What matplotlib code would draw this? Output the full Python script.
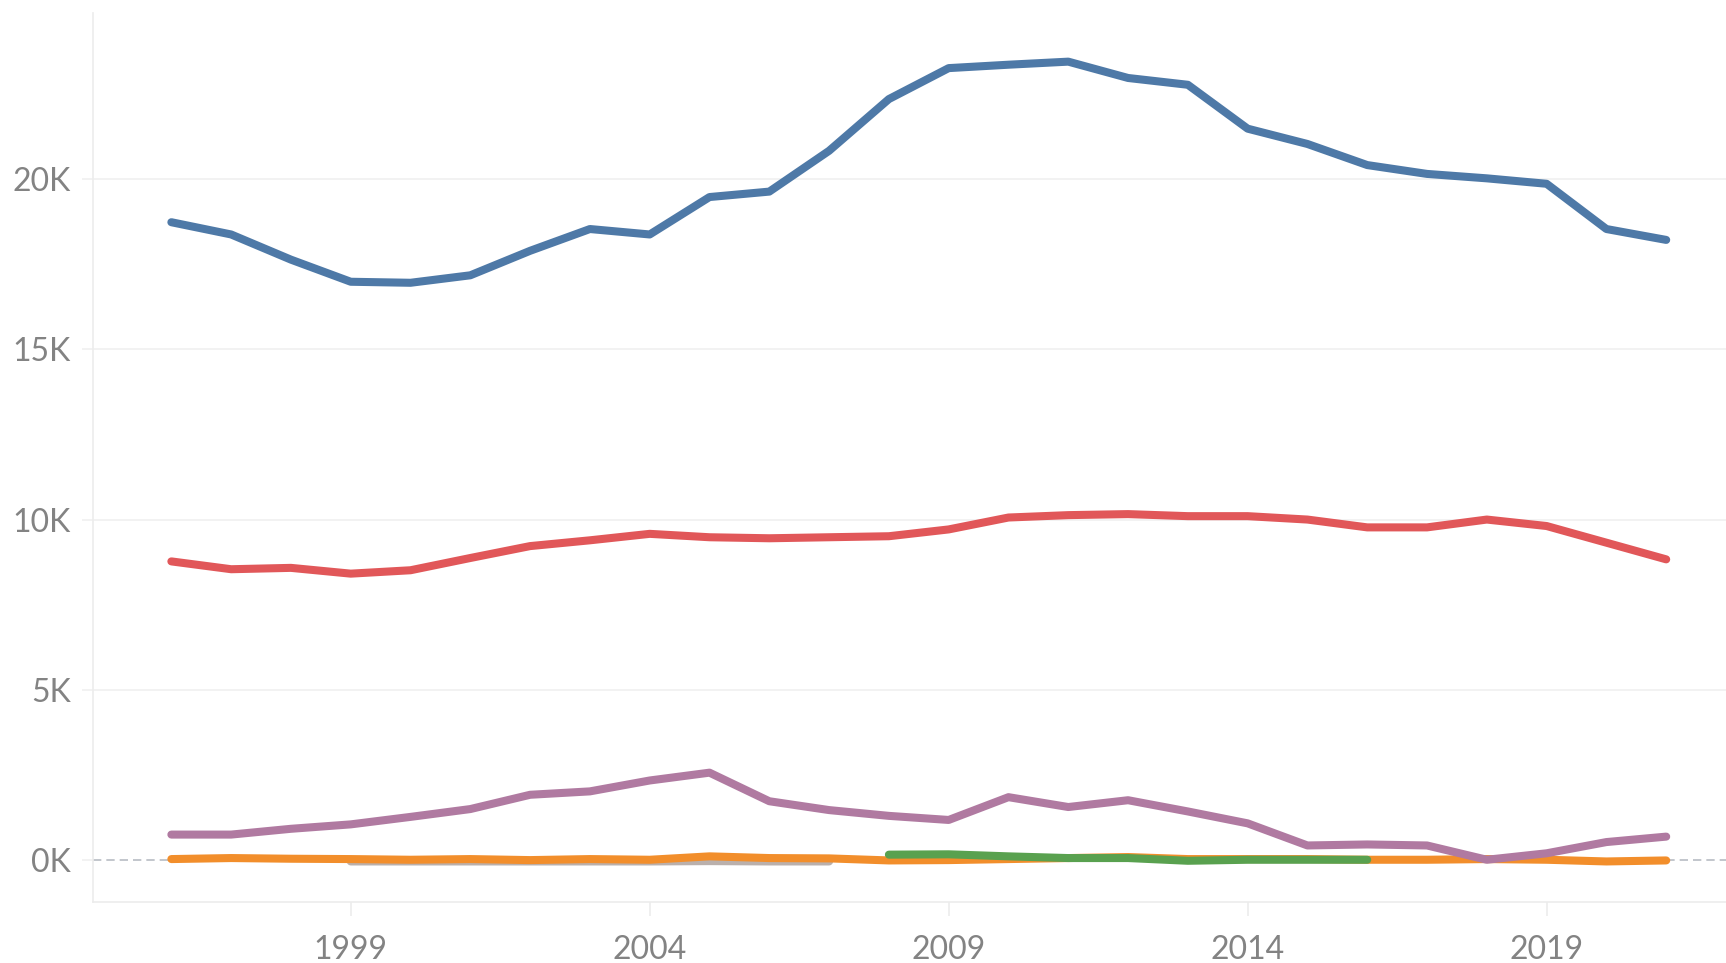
import matplotlib.pyplot as plt
from matplotlib.ticker import FuncFormatter

# data (values in thousands)
years = list(range(1996, 2022))
blue = [18.74, 18.38, 17.64, 16.99, 16.96, 17.18, 17.90, 18.54, 18.38, 19.48,
        19.64, 20.84, 22.36, 23.27, 23.37, 23.46, 22.98, 22.78, 21.49, 21.04,
        20.42, 20.16, 20.03, 19.87, 18.54, 18.22]
red = [8.77, 8.54, 8.58, 8.41, 8.51, 8.87, 9.22, 9.39, 9.58, 9.48,
       9.45, 9.48, 9.51, 9.71, 10.06, 10.13, 10.16, 10.10, 10.10, 10.00,
       9.77, 9.77, 10.00, 9.81, 9.32, 8.83]
purple = [0.74, 0.74, 0.91, 1.04, 1.26, 1.49, 1.91, 2.01, 2.33, 2.56,
          1.72, 1.46, 1.29, 1.17, 1.84, 1.55, 1.75, 1.42, 1.07, 0.42,
          0.45, 0.42, 0.0, 0.19, 0.52, 0.68]
orange = [0.02, 0.05, 0.03, 0.02, 0.0, 0.02, -0.01, 0.02, 0.0, 0.10,
          0.05, 0.04, -0.02, -0.01, 0.02, 0.05, 0.08, 0.02, 0.02, 0.02,
          0.0, 0.0, 0.02, 0.0, -0.05, -0.02]
green_years = list(range(2008, 2017))
green = [0.15, 0.16, 0.10, 0.05, 0.05, -0.03, 0.0, 0.0, 0.0]
gray_years = list(range(1999, 2008))
gray = [-0.05, -0.05, -0.05, -0.05, -0.05, -0.05, -0.04, -0.05, -0.05]

xticks = [1999, 2004, 2009, 2014, 2019]
yticks = [0, 5, 10, 15, 20]

plt.rcParams['font.family'] = ['Lato', 'DejaVu Sans']

fig = plt.figure(figsize=(17.26, 9.63), dpi=100)
ax = fig.add_axes([0.0539, 0.0633, 0.9461, 0.9232])

lw = 5.8
style = dict(lw=lw, solid_capstyle="round", solid_joinstyle="round")
ax.axhline(0, color="#b8bcc4", lw=1.2, ls=(0, (5, 3)), zorder=1)
ax.plot(gray_years, gray, color="#bab0ac", zorder=2, **style)
ax.plot(years, orange, color="#f28e2b", zorder=3, **style)
ax.plot(green_years, green, color="#59a14f", zorder=4, **style)
ax.plot(years, purple, color="#b07aa1", zorder=5, **style)
ax.plot(years, red, color="#e15759", zorder=6, **style)
ax.plot(years, blue, color="#4e79a7", zorder=7, **style)

ax.set_xlim(1994.69, 2022.0)
ax.set_ylim(-1.243, 24.89)

ax.set_xticks(xticks)
ax.set_yticks(yticks)
ax.yaxis.set_major_formatter(FuncFormatter(lambda v, p: f"{int(v)}K"))

for y in yticks[1:]:
    ax.axhline(y, color="#f0f0f0", lw=1.2, zorder=0)

for s in ["top", "right"]:
    ax.spines[s].set_visible(False)
for s in ["left", "bottom"]:
    ax.spines[s].set_color("#ececec")
    ax.spines[s].set_linewidth(1.2)

ax.tick_params(axis="y", length=8, width=1.2, color="#f0f0f0", pad=8,
               labelsize=23, labelcolor="#838383")
ax.tick_params(axis="x", length=10, width=1.2, color="#ececec", pad=14,
               labelsize=23, labelcolor="#838383")

fig.savefig("out.png", dpi=100)
